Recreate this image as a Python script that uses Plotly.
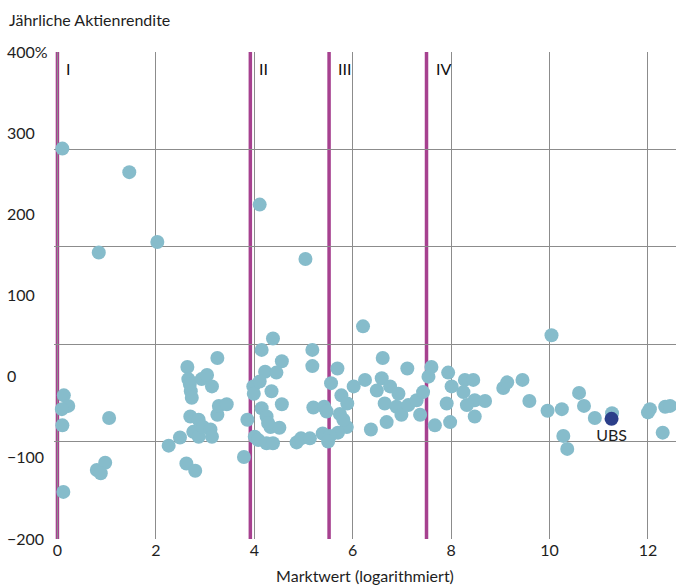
import plotly.graph_objects as go

# ---- data -------------------------------------------------------------
market_value = [
    0.10, 0.84, 1.46, 2.03,
    0.13, 0.22, 0.09, 0.10, 0.12,
    1.05, 0.80, 0.97, 0.88,
    2.26, 2.49, 2.64, 2.66, 2.69, 2.71, 2.73, 2.70, 2.87, 2.76, 2.87, 2.96, 3.11, 3.14,
    2.93, 3.04, 3.14, 3.25, 3.25, 3.28, 3.44, 2.62, 2.80, 3.79, 3.86,
    4.11, 5.04, 4.38, 4.15, 4.56, 4.22, 4.45, 3.98, 3.99, 4.11, 4.35, 4.56, 4.15, 4.25,
    4.33, 4.51, 4.28, 4.01, 4.08, 4.25, 4.38, 4.86, 4.95, 5.13, 5.18, 5.18, 5.20, 5.42,
    5.47, 5.39,
    5.56, 5.69, 6.21, 6.61, 7.11, 6.25, 6.02, 6.59, 6.49, 6.76, 6.93, 6.65, 6.89, 6.99,
    7.13, 7.30, 7.43, 7.37, 6.69, 6.37, 5.77, 5.89, 5.74, 5.88, 5.70, 5.54, 5.50, 5.81,
    7.60, 7.54, 7.94, 8.01, 7.91, 7.67, 7.98, 8.28, 8.45, 8.25, 8.48, 8.32, 8.69, 8.48,
    10.04, 9.06, 9.14, 9.45, 9.59, 9.96, 10.25, 10.28, 10.36, 10.60, 10.70, 10.92, 11.27,
    12.04, 12.35, 12.45, 12.30, 12.00,
]
annual_return = [
    281, 153, 252, 166,
    -23, -36, -40, -60, -142,
    -51, -115, -106, -119,
    -85, -75, 12, -3, -9, -18, -26, -49, -53, -68, -74, -62, -65, -74,
    -3, 2, -12, 23, -47, -36, -34, -107, -116, -99, -53,
    212, 145, 47, 33, 19, 6, 5, -12, -21, -6, -18, -34, -39, -49,
    -62, -63, -57, -74, -78, -82, -82, -81, -76, -76, 33, 13, -38, -37,
    -43, -70,
    -8, 10, 62, 23, 10, -4, -12, -2, -17, -12, -21, -33, -37, -47,
    -35, -29, -19, -47, -56, -65, -23, -33, -46, -62, -69, -73, -80, -53,
    12, 0, 5, -12, -33, -60, -56, -4, -4, -19, -29, -35, -30, -49,
    51, -14, -7, -4, -30, -42, -40, -73, -89, -20, -36, -51, -45,
    -40, -37, -36, -69, -44,
]

ubs_name = ["UBS"]
ubs_value = [11.26]
ubs_return = [-52]

segment_names = ["I", "II", "III", "IV"]
segment_bounds = [0.0, 3.92, 5.52, 7.50]

x_ticks = [0, 2, 4, 6, 8, 10, 12]
y_tick_vals = [400, 300, 200, 100, 0, -100, -200]
y_tick_text = ["400%", "300", "200", "100", "0", "\u2212100", "\u2212200"]
y_grid_vals = [-200, -80, 40, 160, 280, 400]

# ---- styling ----------------------------------------------------------
FONT = "Lato"
TXT = "#1e1e1e"
GRID = "#8c8c8c"
DOT = "#86bccb"
UBS_C = "#2b3f8a"
MAGENTA = "#a6418f"

W, H = 676, 586
ML, MR, MT, MB = 3, 0, 52, 47
plot_left_px = 54
x_dom0 = (plot_left_px - ML) / (W - ML - MR)

fig = go.Figure()

fig.add_trace(go.Scatter(
    x=market_value, y=annual_return, mode="markers",
    marker=dict(size=14, color=DOT, line=dict(width=0)),
    showlegend=False, hoverinfo="x+y",
))
fig.add_trace(go.Scatter(
    x=ubs_value, y=ubs_return, mode="markers+text",
    text=ubs_name, textposition="bottom center",
    textfont=dict(family=FONT, size=16, color=TXT),
    marker=dict(size=14, color=UBS_C, line=dict(width=0)),
    showlegend=False, hoverinfo="x+y+text",
))
# invisible trace that carries the label axis
fig.add_trace(go.Scatter(x=[None], y=[None], yaxis="y2", showlegend=False,
                         hoverinfo="skip"))

for name, b in zip(segment_names, segment_bounds):
    fig.add_shape(type="line", xref="x", yref="paper", x0=b, x1=b, y0=0, y1=1,
                  line=dict(color=MAGENTA, width=3.5), layer="between")
    fig.add_annotation(x=b, y=1, xref="x", yref="paper", text=name,
                       showarrow=False, xanchor="left", yanchor="top",
                       xshift=7, yshift=-5,
                       font=dict(family=FONT, size=16, color="#111111"))

fig.add_annotation(x=0, y=1 + (MT - 20) / (H - MT - MB), xref="paper", yref="paper",
                   text="Jährliche Aktienrendite", showarrow=False,
                   xanchor="left", yanchor="middle", xshift=4,
                   font=dict(family=FONT, size=16, color=TXT))

fig.update_layout(
    width=W, height=H,
    margin=dict(l=ML, r=MR, t=MT, b=MB),
    paper_bgcolor="white", plot_bgcolor="white",
    font=dict(family=FONT, size=16, color=TXT),
    xaxis=dict(
        domain=[x_dom0, 1], range=[-0.07, 12.57],
        tickvals=x_ticks, showgrid=True, gridcolor=GRID, gridwidth=1,
        zeroline=False, showline=False, ticks="",
        tickfont=dict(family=FONT, size=16, color=TXT),
        title=dict(text="Marktwert (logarithmiert)", standoff=12,
                   font=dict(family=FONT, size=16, color=TXT)),
        fixedrange=True,
    ),
    yaxis=dict(
        range=[-200, 400], tickvals=y_grid_vals, showticklabels=False,
        showgrid=True, gridcolor=GRID, gridwidth=1,
        zeroline=False, showline=False, ticks="", fixedrange=True,
    ),
    yaxis2=dict(
        overlaying="y", anchor="free", position=0, side="left",
        range=[-200, 400], tickvals=y_tick_vals, ticktext=y_tick_text,
        ticklabelposition="inside", ticklabeloverflow="allow",
        showgrid=False, zeroline=False, showline=False, ticks="",
        tickfont=dict(family=FONT, size=16, color=TXT), fixedrange=True,
    ),
)

fig.write_html("out.html", config={"displayModeBar": False},
               post_script="document.body.style.margin='0';")
